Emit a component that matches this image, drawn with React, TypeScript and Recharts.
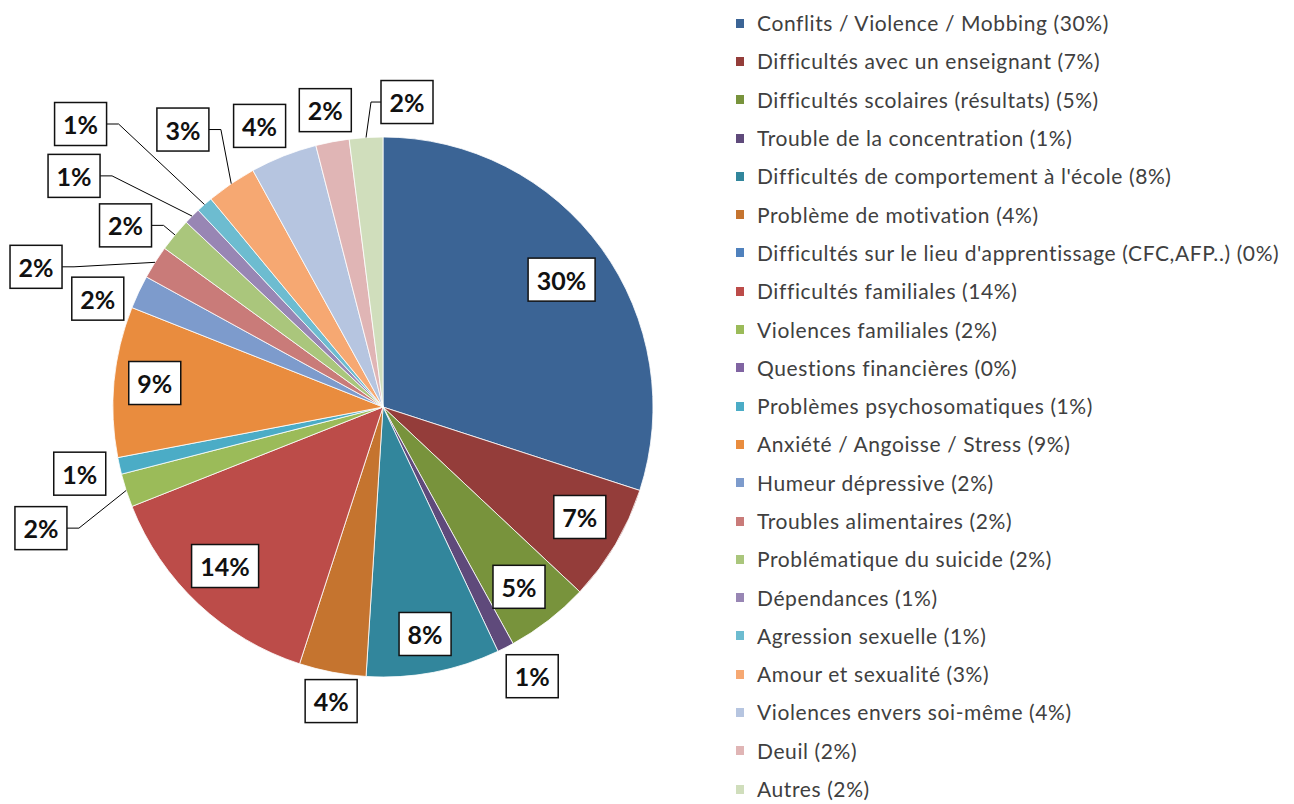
import React from 'react';
import { PieChart, Pie, Legend } from 'recharts';

const categories = [
  'Conflits / Violence / Mobbing',
  'Difficultés avec un enseignant',
  'Difficultés scolaires (résultats)',
  'Trouble de la concentration',
  "Difficultés de comportement à l'école",
  'Problème de motivation',
  "Difficultés sur le lieu d'apprentissage (CFC,AFP..)",
  'Difficultés familiales',
  'Violences familiales',
  'Questions financières',
  'Problèmes psychosomatiques',
  'Anxiété / Angoisse / Stress',
  'Humeur dépressive',
  'Troubles alimentaires',
  'Problématique du suicide',
  'Dépendances',
  'Agression sexuelle',
  'Amour et sexualité',
  'Violences envers soi-même',
  'Deuil',
  'Autres',
];

const values = [30, 7, 5, 1, 8, 4, 0, 14, 2, 0, 1, 9, 2, 2, 2, 1, 1, 3, 4, 2, 2];

const colors = [
  '#3B6495', '#943D3A', '#78933C', '#5F4A7B', '#32869C', '#C5742F', '#4F81BD',
  '#BC4C49', '#9BBB59', '#8064A2', '#4BACC6', '#E98C3E', '#7D9BCC', '#C97B79',
  '#AAC67C', '#9886B4', '#6DBCD0', '#F6A872', '#B6C5E0', '#E0B5B5', '#D0DEBC',
];

// label placement: radius factor, angle offset (deg, clockwise), leader side
const labelLayout: { rf: number; da: number; leader?: 'left' | 'right' }[] = [
  { rf: 0.8125, da: 0.5 },
  { rf: 0.835, da: -1.4 },
  { rf: 0.835, da: 0.7 },
  { rf: 1.14, da: -2 },
  { rf: 0.855, da: 0.3 },
  { rf: 1.106, da: -0.8 },
  { rf: 1, da: 0 },
  { rf: 0.83, da: 1.6 },
  { rf: 1.344, da: -1.5, leader: 'right' },
  { rf: 1, da: 0 },
  { rf: 1.15, da: 0.2 },
  { rf: 0.85, da: 0.6 },
  { rf: 1.13, da: -4.4 },
  { rf: 1.386, da: -10.4, leader: 'right' },
  { rf: 1.167, da: -4.4, leader: 'right' },
  { rf: 1.429, da: -8.2, leader: 'right' },
  { rf: 1.534, da: -5.5, leader: 'right' },
  { rf: 1.267, da: -1.6, leader: 'right' },
  { rf: 1.137, da: -2.1 },
  { rf: 1.12, da: -0.2 },
  { rf: 1.133, da: 8.1, leader: 'left' },
];

const data = categories.map((c, i) => ({
  name: `${c} (${values[i]}%)`,
  value: values[i],
  fill: colors[i],
}));

const RAD = Math.PI / 180;
const LABEL_FONT = 'Lato, "Open Sans", sans-serif';

const renderLabel = (props: any) => {
  const { cx, cy, midAngle, outerRadius, index, value } = props;
  if (!value) return null;
  const lay = labelLayout[index];
  const cw = 90 - midAngle;
  const a = (cw + lay.da) * RAD;
  const r = outerRadius * lay.rf;
  const x = cx + r * Math.sin(a);
  const y = cy - r * Math.cos(a);
  const text = `${value}%`;
  const w = text.length >= 3 ? 67 : 52;
  const h = 43;
  let leader = null;
  if (lay.leader) {
    const ex = cx + outerRadius * Math.sin(cw * RAD);
    const ey = cy - outerRadius * Math.cos(cw * RAD);
    const sx = lay.leader === 'right' ? x + w / 2 : x - w / 2;
    const kx = lay.leader === 'right' ? sx + 12 : sx - 10;
    leader = (
      <polyline
        points={`${sx},${y} ${kx},${y} ${ex},${ey}`}
        fill="none"
        stroke="#000"
        strokeWidth={1}
      />
    );
  }
  return (
    <g key={`lbl-${index}`}>
      {leader}
      <rect x={x - w / 2} y={y - h / 2} width={w} height={h} fill="#fff" stroke="#111" strokeWidth={1.5} />
      <text
        x={x}
        y={y}
        textAnchor="middle"
        dominantBaseline="central"
        fontFamily={LABEL_FONT}
        fontWeight={700}
        fontSize={25}
        fill="#111"
      >
        {text}
      </text>
    </g>
  );
};

const renderLegend = () => (
  <div style={{ fontFamily: 'Lato, sans-serif', fontSize: 21, letterSpacing: 0.6, color: '#404040', lineHeight: '24px' }}>
    {data.map((d, i) => (
      <div key={i} style={{ height: 38.3, display: 'flex', alignItems: 'center', whiteSpace: 'nowrap' }}>
        <span style={{ display: 'inline-block', width: 8, height: 9, background: d.fill, marginRight: 13 }} />
        <span>{d.name}</span>
      </div>
    ))}
  </div>
);

export default function App() {
  return (
    <div style={{ position: 'absolute', left: 0, top: 0, background: '#fff' }}>
      <PieChart width={1294} height={804} margin={{ top: 0, right: 0, bottom: 0, left: 0 }}>
        <Pie
          data={data}
          dataKey="value"
          nameKey="name"
          cx={383}
          cy={407}
          outerRadius={270}
          startAngle={90}
          endAngle={-270}
          stroke="#fff"
          strokeWidth={0.8}
          label={renderLabel}
          labelLine={false}
          isAnimationActive={false}
        />
        <Legend
          layout="vertical"
          align="right"
          verticalAlign="top"
          content={renderLegend}
          wrapperStyle={{ left: 736, top: 4, right: 'auto', width: 558 }}
        />
      </PieChart>
    </div>
  );
}
